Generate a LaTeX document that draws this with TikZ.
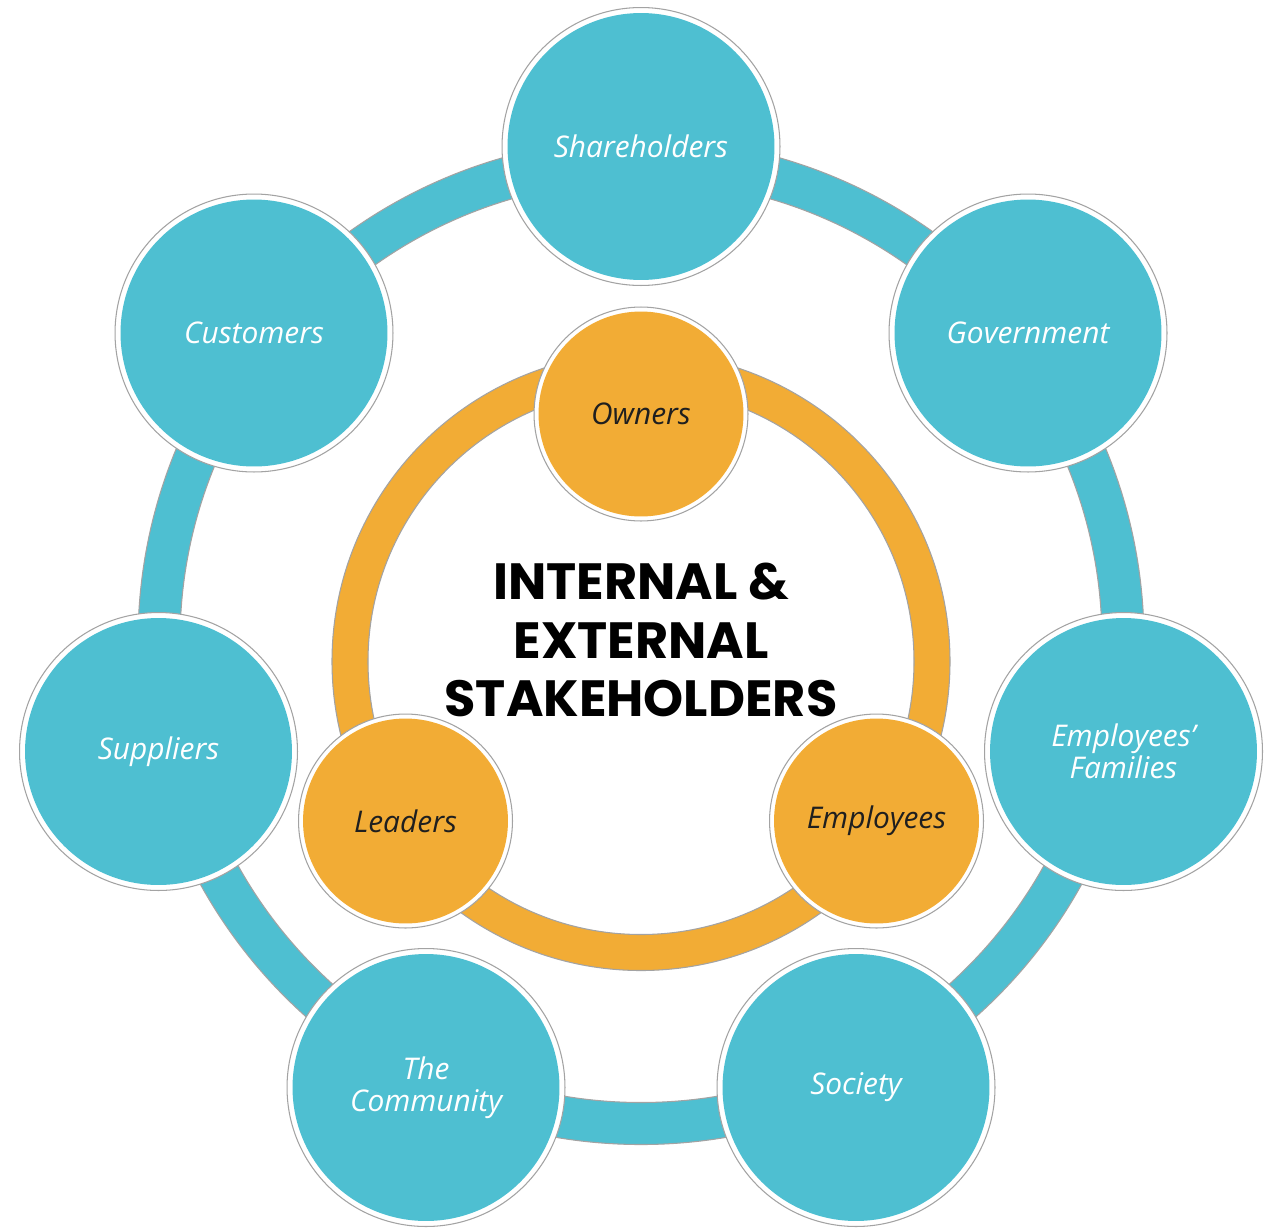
\documentclass[tikz,border=0pt]{standalone}
\usepackage{fontspec}
\usepackage{xcolor}
\setmainfont{Open Sans}
\newfontfamily\titrefont{Poppins}
\definecolor{bleu}{HTML}{4EBFD1}
\definecolor{ocre}{HTML}{F2AC35}
\definecolor{contour}{HTML}{A3A3A3}

\tikzset{
	ext/.style={circle,minimum size=5.56cm,inner sep=0pt,fill=white,draw=contour,line width=0.6pt,
		text=white,align=center,font=\itshape\fontsize{17}{18}\selectfont,
		path picture={\fill[bleu] (path picture bounding box.center) circle (2.67cm);}},
	int/.style={circle,minimum size=4.28cm,inner sep=0pt,fill=white,draw=contour,line width=0.6pt,
		text=black!88,align=center,font=\itshape\fontsize{17}{18}\selectfont,
		path picture={\fill[ocre] (path picture bounding box.center) circle (2.05cm);}},
	titre/.style={align=center,text=black,font=\titrefont\bfseries\fontsize{29}{33.5}\selectfont}
}

\begin{document}
\begin{tikzpicture}[x=0.02cm,y=-0.02cm]
	\useasboundingbox (0,0) rectangle (1274,1227);
	\fill[white] (0,0) rectangle (1274,1227);
	\coordinate (cext) at (641,641.5); % centre de l'anneau bleu
	\coordinate (cint) at (641,661.5); % centre de l'anneau orange
	\fill[bleu,even odd rule] (cext) circle (503) (cext) circle (461);
	\draw[contour,line width=0.6pt] (cext) circle (503) (cext) circle (461);
	\fill[ocre,even odd rule] (cint) circle (309) (cint) circle (273);
	\draw[contour,line width=0.6pt] (cint) circle (309) (cint) circle (273);
	% parties prenantes externes
	\node[ext] (share) at (641,146.5) {Shareholders};
	\node[ext] (gov) at (1028,333) {Government};
	\node[ext] (famil) at (1123.5,751.5) {Employees’\\Families};
	\node[ext] (soc) at (856,1087.5) {Society};
	\node[ext] (comm) at (426,1087.5) {The\\Community};
	\node[ext] (suppl) at (158.5,751.5) {Suppliers};
	\node[ext] (cust) at (254,333) {Customers};
	% parties prenantes internes
	\node[int] (own) at (641,414) {Owners};
	\node[int] (lead) at (405.5,821) {Leaders};
	\node[int] (empl) at (876.5,821) {Employees};
	\node[titre] (titre) at (641,640) {INTERNAL \&\\EXTERNAL\\STAKEHOLDERS};
\end{tikzpicture}
\end{document}
